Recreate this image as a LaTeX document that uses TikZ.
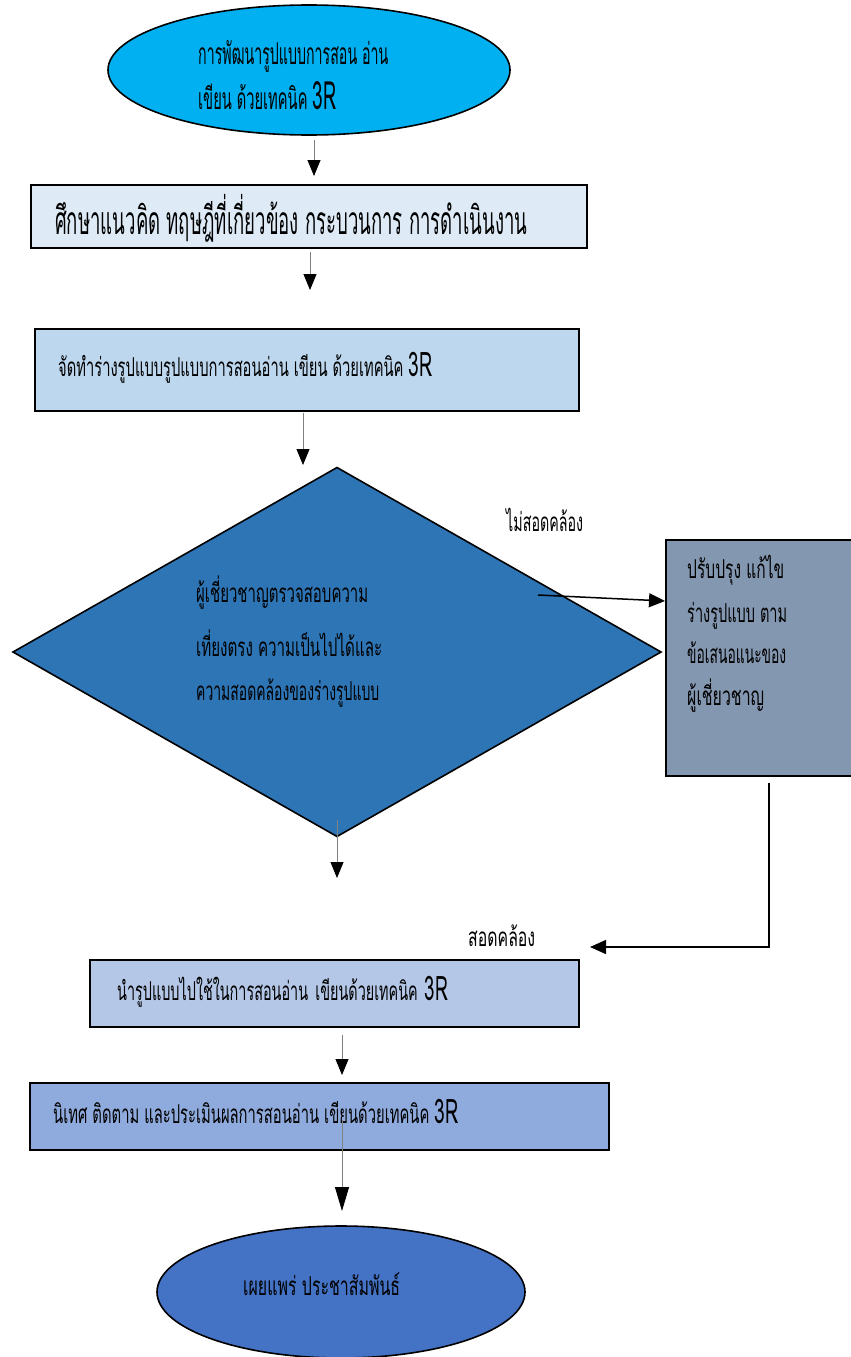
\documentclass[tikz,border=0pt]{standalone}
\usepackage{fontspec}
\newfontfamily\thai[Script=Thai]{Loma}
\usetikzlibrary{shapes.geometric,arrows.meta}
\newcommand\fitw[2]{\resizebox{#1pt}{\height}{#2}}
\newcommand\tR{\scalebox{1.3}{3R}}
\definecolor{cE1}{HTML}{00B0F0}
\definecolor{cB2}{HTML}{DEEBF7}
\definecolor{cB3}{HTML}{BDD7EE}
\definecolor{cDi}{HTML}{2E75B6}
\definecolor{cRB}{HTML}{8497B0}
\definecolor{cB5}{HTML}{B4C7E7}
\definecolor{cB6}{HTML}{8FAADC}
\definecolor{cE2}{HTML}{4472C4}
\definecolor{shaft}{HTML}{808080}
\begin{document}
\begin{tikzpicture}[x=1pt,y=-1pt,
  shp/.style={draw=black,line width=1.6pt,inner sep=0pt,outer sep=0pt},
  boxst/.style={shp,rectangle,anchor=north west},
  txt/.style={anchor=base west,inner sep=0pt,font=\thai\fontsize{26}{30}\selectfont},
  arr/.style={draw=shaft,line width=0.9pt,-{Triangle[length=16pt,width=13pt,color=black]}},
  blk/.style={draw=black,line width=1.5pt,-{Triangle[length=16pt,width=14pt,color=black]}}]
\useasboundingbox (0,0) rectangle (851,1357);

% shapes
\node[shp,ellipse,fill=cE1,minimum width=402pt,minimum height=130pt] (e1) at (309,70) {};
\node[boxst,fill=cB2,minimum width=556pt,minimum height=63pt] (b2) at (31,185) {};
\node[boxst,fill=cB3,minimum width=544pt,minimum height=82pt] (b3) at (35,329) {};
\node[shp,diamond,fill=cDi,minimum width=648pt,minimum height=369pt] (di) at (337,652) {};
\node[boxst,fill=cRB,minimum width=200pt,minimum height=236pt] (rb) at (666,540) {};
\node[boxst,fill=cB5,minimum width=489pt,minimum height=67pt] (b5) at (90,960) {};
\node[boxst,fill=cB6,minimum width=579pt,minimum height=67pt] (b6) at (30,1083) {};
\node[shp,ellipse,fill=cE2,minimum width=368pt,minimum height=132pt] (e2) at (341,1292) {};

% texts
\node[txt,font=\thai\fontsize{30}{34}\selectfont] (t1a) at (198,64) {\fitw{190}{การพัฒนารูปแบบการสอน อ่าน}};
\node[txt,font=\thai\fontsize{30}{34}\selectfont] (t1b) at (198,109) {\fitw{138}{เขียน ด้วยเทคนิค \tR}};
\node[txt,font=\thai\fontsize{39}{44}\selectfont] (t2) at (55,234) {\fitw{472}{ศึกษาแนวคิด ทฤษฎีที่เกี่ยวข้อง กระบวนการ การดำเนินงาน}};
\node[txt] (t3) at (58,376) {\fitw{374}{จัดทำร่างรูปแบบรูปแบบการสอนอ่าน เขียน ด้วยเทคนิค \tR}};
\node[txt] (t4a) at (196,602) {\fitw{172}{ผู้เชี่ยวชาญตรวจสอบความ}};
\node[txt] (t4b) at (196,656) {\fitw{186}{เที่ยงตรง ความเป็นไปได้และ}};
\node[txt] (t4c) at (196,700) {\fitw{183}{ความสอดคล้องของร่างรูปแบบ}};
\node[txt] (t5a) at (687,578) {\fitw{97}{ปรับปรุง แก้ไข}};
\node[txt] (t5b) at (687,622) {\fitw{100}{ร่างรูปแบบ ตาม}};
\node[txt] (t5c) at (687,663) {\fitw{99}{ข้อเสนอแนะของ}};
\node[txt] (t5d) at (687,705) {\fitw{77}{ผู้เชี่ยวชาญ}};
\node[txt] (lno) at (506,531) {\fitw{77}{ไม่สอดคล้อง}};
\node[txt] (lyes) at (468,946) {\fitw{67}{สอดคล้อง}};
\node[txt] (t6) at (117,1000) {\fitw{331}{นำรูปแบบไปใช้ในการสอนอ่าน\enspace เขียนด้วยเทคนิค\enspace \tR}};
\node[txt] (t7) at (53,1123) {\fitw{405}{นิเทศ ติดตาม และประเมินผลการสอนอ่าน เขียนด้วยเทคนิค \tR}};
\node[txt] (t8) at (243,1295) {\fitw{157}{เผยแพร่ ประชาสัมพันธ์}};

% connector ends
\coordinate (a1s) at (314,140); \coordinate (a1e) at (314,176);
\coordinate (a2s) at (310,252); \coordinate (a2e) at (310,290);
\coordinate (a3s) at (303,413); \coordinate (a3e) at (303,465);
\coordinate (a4s) at (337,820); \coordinate (a4e) at (337,878);
\coordinate (a5s) at (342,1035); \coordinate (a5e) at (342,1075);
\coordinate (a6s) at (342,1120); \coordinate (a6e) at (342,1211);
\coordinate (ns) at (538,595); \coordinate (ne) at (665,601);
\coordinate (ys) at (769,783); \coordinate (yc) at (769,947); \coordinate (ye) at (590,947);

\draw[arr] (a1s) -- (a1e);
\draw[arr] (a2s) -- (a2e);
\draw[arr] (a3s) -- (a3e);
\draw[arr] (a4s) -- (a4e);
\draw[arr] (a5s) -- (a5e);
\draw[arr,-{Triangle[length=24pt,width=14pt,color=black]}] (a6s) -- (a6e);
\draw[blk] (ns) -- (ne);
\draw[blk] (ys) -- (yc) -- (ye);
\end{tikzpicture}
\end{document}
